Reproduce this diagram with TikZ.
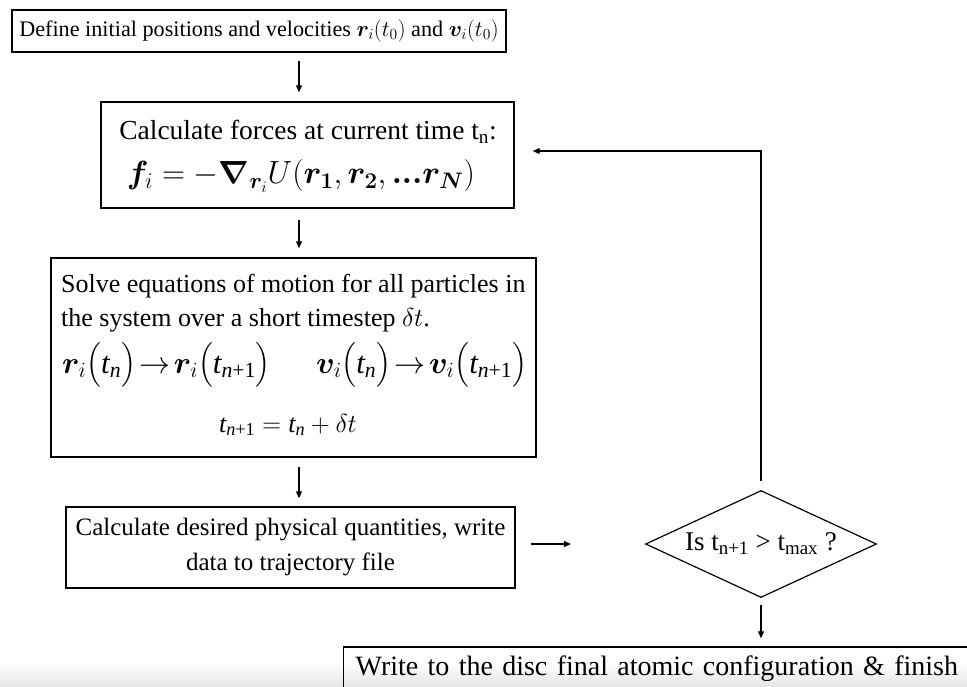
\documentclass[tikz,border=0pt]{standalone}
\usepackage{fix-cm}
\usepackage{amsmath}
\usepackage{bm}
\usepackage{fontspec}
\setmainfont{Liberation Serif}
\usetikzlibrary{shapes.geometric,arrows.meta}
\newcommand{\Tit}{\textit{t}}
\newcommand{\Nit}{\textit{n}}
\begin{document}
\begin{tikzpicture}[x=1pt,y=-1pt,
  box/.style={draw,line width=1.4pt,inner sep=0pt,align=center},
  lbl/.style={inner sep=0pt,align=center},
  arr/.style={line width=1.1pt,-{Triangle[length=7pt,width=6pt]}},
  font=\fontsize{26}{31}\selectfont]
\useasboundingbox (0,0) rectangle (967,686);
\clip (0,0) rectangle (967,686);
\shade[top color=white,bottom color=black!10] (0,662) rectangle (967,686);
\coordinate (ax) at (299,0);
% top box
\node[box,minimum width=494pt,minimum height=42pt,font=\fontsize{22.2}{27}\selectfont] (top) at (259,31)
  {Define initial positions and velocities $\bm{r}_i(t_0)$ and $\bm{v}_i(t_0)$};
% box 2
\node[box,minimum width=413pt,minimum height=106pt] (b2) at (307.5,155) {};
\node[lbl,anchor=base,font=\fontsize{27.5}{32}\selectfont] (b2a) at (308,139) {Calculate forces at current time t\textsubscript{n}:};
\node[lbl] (b2b) at (301,176) {\fontsize{32}{37}\selectfont $\bm{f}_i = -\bm{\nabla}_{\bm{r}_i} U(\bm{r_1},\bm{r_2},\bm{...r_N})$};
% box 3
\node[box,minimum width=485pt,minimum height=199pt] (b3) at (293.5,357.5) {};
\node[lbl,anchor=base west] (b3a) at (61,292) {Solve equations of motion for all particles in};
\node[lbl,anchor=base west] (b3b) at (61,326) {the system over a short timestep $\delta t$.};
\node[lbl,anchor=base west] (b3c) at (62,373) {\fontsize{31}{37}\selectfont $\bm{r}_i\bigl(\Tit_{\Nit}\bigr)\!\rightarrow\!\bm{r}_i\bigl(\Tit_{\Nit\textup{+1}}\bigr)$};
\node[lbl,anchor=base west] (b3d) at (316,373) {\fontsize{31}{37}\selectfont $\bm{v}_i\bigl(\Tit_{\Nit}\bigr)\!\rightarrow\!\bm{v}_i\bigl(\Tit_{\Nit\textup{+1}}\bigr)$};
\node[lbl,anchor=base] (b3e) at (288,432) {\fontsize{26}{32}\selectfont $\Tit_{\Nit\textup{+1}} \mathrel{=} \Tit_{\Nit} + \delta t$};
% box 4
\node[box,minimum width=449pt,minimum height=81pt,font=\fontsize{25}{35}\selectfont] (b4) at (290.5,547.5)
  {Calculate desired physical quantities, write\\data to trajectory file};
% decision
\node[diamond,draw,line width=1.2pt,aspect=2.16,minimum width=231pt,minimum height=107pt,inner sep=0pt,font=\fontsize{27}{32}\selectfont] (dec) at (761,544)
  {Is t\textsubscript{n+1} > t\textsubscript{max} ?};
% final box
\node[box,anchor=west,text width=616pt,align=left,inner xsep=12pt,minimum height=44pt,font=\fontsize{28}{33}\selectfont] (fin) at (343,669)
  {Write to the disc final atomic configuration \& finish};
% connectors
\draw[arr,shorten <=8pt,shorten >=9pt] (top.south -| ax) -- (b2.north -| ax);
\draw[arr,shorten <=11pt,shorten >=9pt] (b2.south -| ax) -- (b3.north -| ax);
\draw[arr,shorten <=9pt,shorten >=8pt] (b3.south -| ax) -- (b4.north -| ax);
\draw[arr,shorten <=15pt,shorten >=74pt] (b4.east |- dec.west) -- (dec.west);
\draw[arr,shorten <=9pt,shorten >=18pt] (dec.north) |- ([yshift=4pt]b2.east);
\draw[arr,shorten <=7pt,shorten >=8pt] (dec.south) -- (fin.north -| dec.south);
\end{tikzpicture}
\end{document}
